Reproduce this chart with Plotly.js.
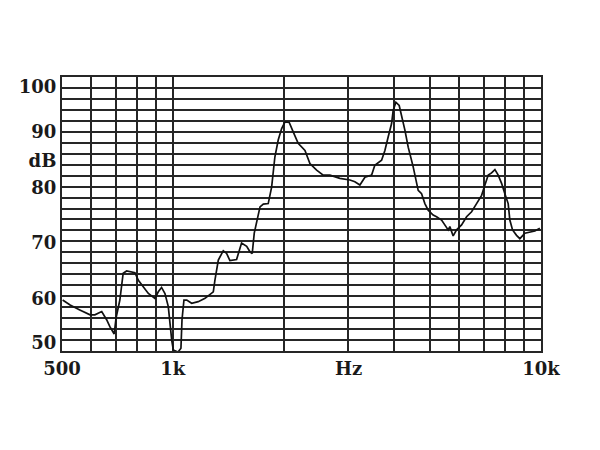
<!DOCTYPE html>
<html>
<head>
<meta charset="utf-8">
<script src="https://cdn.plot.ly/plotly-3.0.1.min.js"></script>
<style>html,body{margin:0;padding:0;background:#fff;}#chart{width:600px;height:450px;}</style>
</head>
<body>
<div id="chart"></div>
<script>
// Frequency (Hz)
var freq = [502, 526, 559, 596, 614, 641, 661, 675, 693, 701, 718, 733, 749, 773, 789, 806, 831, 858, 894, 913, 932, 952, 972, 982, 993, 1003, 1033, 1052, 1059, 1072, 1091, 1125, 1172, 1223, 1288, 1301, 1329, 1371, 1400, 1429, 1490, 1537, 1587, 1620, 1643, 1664, 1689, 1725, 1761, 1816, 1855, 1893, 1933, 1975, 2017, 2071, 2123, 2190, 2285, 2357, 2458, 2561, 2671, 2843, 3027, 3122, 3222, 3325, 3467, 3537, 3690, 3767, 3846, 3928, 3967, 4035, 4119, 4181, 4269, 4358, 4496, 4639, 4738, 4837, 4938, 5094, 5203, 5370, 5482, 5596, 5655, 5773, 5898, 6085, 6279, 6479, 6684, 6897, 7041, 7189, 7341, 7496, 7652, 7815, 7977, 8144, 8230, 8370, 8582, 8761, 9040, 9327, 9622, 9928];
// Sound pressure level (dB)
var spl = [59.3, 58.4, 57.5, 56.6, 56.6, 57.2, 55.7, 54.4, 53.1, 56.0, 59.3, 64.2, 64.6, 64.5, 64.3, 62.9, 61.7, 60.5, 59.6, 60.8, 61.6, 60.5, 58.1, 54.4, 52.0, 50.2, 49.8, 50.5, 55.7, 59.3, 59.3, 58.7, 59.0, 59.6, 60.8, 62.9, 66.6, 68.3, 67.8, 66.5, 66.7, 69.7, 69.1, 68.1, 67.8, 71.5, 73.6, 76.3, 76.8, 76.9, 79.9, 85.4, 88.5, 90.6, 91.8, 91.7, 90.0, 87.9, 86.6, 84.2, 83.0, 82.1, 82.1, 81.5, 81.2, 80.9, 80.3, 81.7, 82.1, 83.9, 84.8, 86.6, 89.1, 91.5, 93.9, 95.4, 94.8, 93.0, 90.3, 87.2, 83.6, 79.3, 78.7, 76.9, 75.7, 74.8, 74.5, 73.9, 73.0, 72.1, 72.7, 71.0, 72.1, 73.0, 74.5, 75.4, 76.9, 78.4, 80.3, 82.1, 82.5, 83.1, 82.1, 80.6, 78.7, 76.9, 73.9, 72.1, 71.1, 70.5, 71.5, 71.7, 71.9, 72.4];

var xTickVals = [500, 1000, 3000, 10000];
var xTickText = ['500', '1k', 'Hz', '10k'];
var xGridVals = [600, 700, 800, 900, 2000, 4000, 5000, 6000, 7000, 8000, 9000];
var yTickVals = [51.5, 59.5, 69.7, 79.8, 84.8, 90, 98.2];
var yTickText = ['50', '60', '70', '80', 'dB', '90', '100'];

var lineCol = '#262626';
var tickFont = {family: 'DejaVu Serif', size: 18, color: '#1a1a1a', weight: 'bold'};

var trace = {
  x: freq, y: spl, type: 'scatter', mode: 'lines',
  line: {color: '#111', width: 1.7},
  hoverinfo: 'skip', cliponaxis: true
};

var layout = {
  width: 600, height: 450,
  margin: {l: 62, r: 59, t: 77, b: 99, pad: 0},
  paper_bgcolor: '#fff', plot_bgcolor: '#fff',
  showlegend: false,
  xaxis: {
    type: 'log', range: [Math.log10(500), Math.log10(10000)],
    tickmode: 'array', tickvals: xTickVals, ticktext: xTickText,
    showgrid: true, gridcolor: lineCol, gridwidth: 2,
    minor: {tickmode: 'array', tickvals: xGridVals, showgrid: true, gridcolor: lineCol, gridwidth: 2, ticks: ''},
    showline: true, mirror: true, linecolor: lineCol, linewidth: 2,
    ticks: '', tickfont: tickFont, zeroline: false, fixedrange: true
  },
  yaxis: {
    range: [50, 100],
    tickmode: 'array', tickvals: yTickVals, ticktext: yTickText,
    showgrid: false,
    minor: {tickmode: 'linear', tick0: 50, dtick: 2, showgrid: true, gridcolor: lineCol, gridwidth: 2, ticks: ''},
    showline: true, mirror: true, linecolor: lineCol, linewidth: 2,
    ticks: '', tickfont: tickFont, zeroline: false, fixedrange: true
  }
};

Plotly.newPlot('chart', [trace], layout, {displayModeBar: false, staticPlot: true});
</script>
</body>
</html>
